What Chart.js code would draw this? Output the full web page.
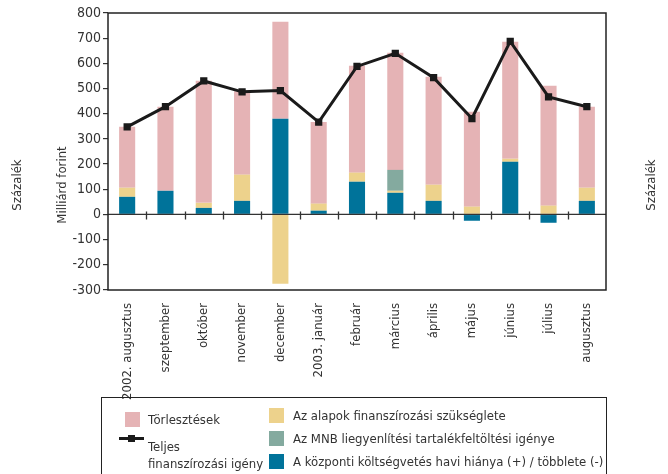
<!DOCTYPE html>
<html>
<head>
<meta charset="utf-8">
<script src="https://cdn.jsdelivr.net/npm/chart.js@4/dist/chart.umd.min.js"></script>
<style>
  html, body { margin: 0; padding: 0; background: #fff; }
  #wrap { position: relative; width: 668px; height: 474px; overflow: hidden; }
  #c { position: absolute; left: 0; top: 0; }
  #legend { position: absolute; left: 101px; top: 397px; width: 504px; height: 90px; border: 1.5px solid #222;
            font-family: "Liberation Sans Narrow", "DejaVu Sans Condensed", "Roboto Condensed", sans-serif; font-size: 13px; color: #333; }
  .li { position: absolute; white-space: nowrap; line-height: 17px; }
  .sw { position: absolute; width: 15px; height: 15px; }
</style>
</head>
<body>
<div id="wrap">
  <canvas id="c" width="668" height="474"></canvas>
  <div id="legend"></div>
</div>
<script>
const categories = ['2002. augusztus','szeptember','október','november','december','2003. január','február','március','április','május','június','július','augusztus'];
const kozpontiHiany = [70, 94, 26, 54, 380, 15, 130, 86, 54, -25, 209, -33, 54];
const alapokSzukseglet = [36, 0, 20, 104, -275, 28, 36, 8, 64, 31, 12, 35, 52];
const mnbTartalek = [0, 0, 0, 0, 0, 0, 0, 83, 0, 0, 0, 0, 0];
const torlesztesek = [242, 334, 485, 331, 385, 324, 425, 465, 429, 377, 465, 476, 322];
const teljesIgeny = [348, 428, 530, 487, 492, 367, 588, 640, 543, 381, 687, 467, 428];
const yTicks = [-300, -200, -100, 0, 100, 200, 300, 400, 500, 600, 700, 800];

const FONT = '"Liberation Sans Narrow", "DejaVu Sans Condensed", "Roboto Condensed", sans-serif';
const C_PINK = '#E5B3B5', C_YEL = '#EDD28C', C_TEAL = '#84AA9F', C_BLUE = '#00739A', C_LINE = '#1a1a1a';

const framePlugin = {
  id: 'frame',
  afterDatasetsDraw(chart) {
    const {ctx, chartArea: a, scales} = chart;
    const x = scales.x, y = scales.y;
    const y0 = y.getPixelForValue(0);
    ctx.save();
    ctx.strokeStyle = '#333';
    ctx.lineWidth = 1.3;
    ctx.beginPath();
    ctx.moveTo(a.left, y0); ctx.lineTo(a.right, y0);
    for (let i = 1; i < categories.length; i++) {
      const px = Math.round((x.getPixelForValue(i - 1) + x.getPixelForValue(i)) / 2) + 0.5;
      ctx.moveTo(px, y0 - 3); ctx.lineTo(px, y0 + 5);
    }
    ctx.stroke();
    ctx.strokeStyle = '#222';
    ctx.lineWidth = 1.5;
    ctx.strokeRect(a.left, a.top, a.right - a.left, a.bottom - a.top);
    ctx.restore();
  },
  afterDraw(chart) {
    const ctx = chart.ctx;
    ctx.save();
    ctx.fillStyle = '#333';
    ctx.font = '13px ' + FONT;
    ctx.textAlign = 'center';
    ctx.textBaseline = 'middle';
    const put = (t, x, y) => { ctx.save(); ctx.translate(x, y); ctx.rotate(-Math.PI / 2); ctx.fillText(t, 0, 0); ctx.restore(); };
    put('Százalék', 18, 185);
    put('Milliárd forint', 63, 185);
    put('Százalék', 652, 185);
    ctx.restore();
  }
};

const datasets = [
  {type: 'bar', label: 'A központi költségvetés havi hiánya (+) / többlete (-)', data: kozpontiHiany, backgroundColor: C_BLUE, order: 1},
  {type: 'bar', label: 'Az alapok finanszírozási szükséglete', data: alapokSzukseglet, backgroundColor: C_YEL, order: 1},
  {type: 'bar', label: 'Az MNB liegyenlítési tartalékfeltöltési igénye', data: mnbTartalek, backgroundColor: C_TEAL, order: 1},
  {type: 'bar', label: 'Törlesztések', data: torlesztesek, backgroundColor: C_PINK, order: 1},
  {type: 'line', label: 'Teljes finanszírozási igény', data: teljesIgeny, borderColor: C_LINE, borderWidth: 3,
   pointStyle: 'rect', pointRadius: 3, pointBackgroundColor: C_LINE, pointBorderColor: C_LINE, tension: 0, order: 0, stack: 'line'}
];
datasets.forEach(d => { if (d.type === 'bar') { d.stack = 'bars'; d.barPercentage = 0.42; d.categoryPercentage = 1; d.borderWidth = 0; } });

new Chart(document.getElementById('c'), {
  data: {labels: categories, datasets},
  options: {
    responsive: false,
    animation: false,
    layout: {padding: {left: 0, right: 62, top: 13, bottom: 0}},
    plugins: {legend: {display: false}, tooltip: {enabled: false}},
    scales: {
      x: {
        stacked: true,
        grid: {display: false},
        border: {display: false},
        ticks: {minRotation: 90, maxRotation: 90, color: '#333', padding: 5, font: {family: FONT, size: 13}},
        afterFit(s) { s.height = 184; }
      },
      y: {
        stacked: true,
        min: -300, max: 800,
        afterBuildTicks(s) { s.ticks = yTicks.map(v => ({value: v})); },
        grid: {drawOnChartArea: false, drawTicks: true, tickLength: 5, color: '#333', lineWidth: 1.2},
        border: {display: false},
        ticks: {color: '#333', padding: 2, font: {family: FONT, size: 14}},
        afterFit(s) { s.width = 108; }
      }
    }
  },
  plugins: [framePlugin]
});

// HTML legend built from datasets
const leg = document.getElementById('legend');
const byLabel = Object.fromEntries(datasets.map(d => [d.label, d]));
function sw(color, left, top) {
  const e = document.createElement('div'); e.className = 'sw';
  e.style.left = left + 'px'; e.style.top = top + 'px'; e.style.background = color; leg.appendChild(e);
}
function txt(html, left, top) {
  const e = document.createElement('div'); e.className = 'li';
  e.style.left = left + 'px'; e.style.top = top + 'px'; e.innerHTML = html; leg.appendChild(e);
}
const ox = 101, oy = 397;
sw(byLabel['Törlesztések'].backgroundColor, 124 - ox, 411 - oy);
txt('Törlesztések', 147 - ox, 410 - oy);
// line marker
const ln = document.createElement('div');
ln.style.cssText = `position:absolute;left:${118-ox}px;top:${436-oy}px;width:25px;height:3px;background:${C_LINE}`;
leg.appendChild(ln);
const mk = document.createElement('div');
mk.style.cssText = `position:absolute;left:${127-ox}px;top:${434-oy}px;width:7px;height:7px;background:${C_LINE}`;
leg.appendChild(mk);
txt('Teljes<br>finanszírozási igény', 147 - ox, 437 - oy);
const col2 = ['Az alapok finanszírozási szükséglete', 'Az MNB liegyenlítési tartalékfeltöltési igénye', 'A központi költségvetés havi hiánya (+) / többlete (-)'];
col2.forEach((l, i) => {
  sw(byLabel[l].backgroundColor, 268 - ox, 407 + i * 23 - oy);
  txt(l, 292 - ox, 406 + i * 23 - oy);
});
</script>
</body>
</html>
